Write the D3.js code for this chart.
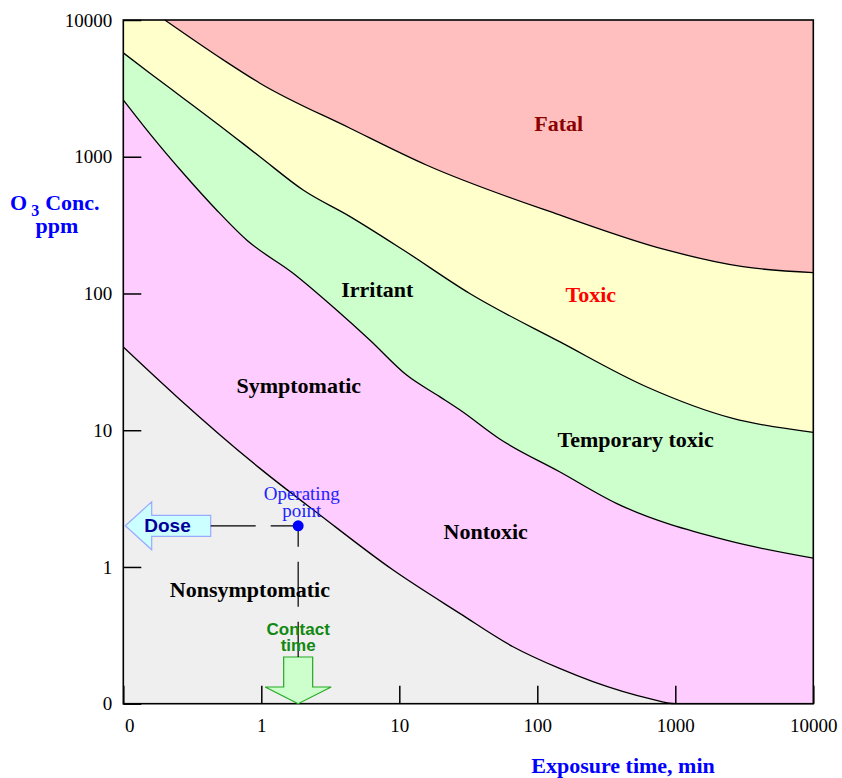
<!DOCTYPE html>
<html>
<head>
<meta charset="utf-8">
<script src="https://cdn.jsdelivr.net/npm/d3@7"></script>
<style>
  body { margin: 0; background: #fff; }
</style>
</head>
<body>
<div id="chart"></div>
<script>
// boundaries between zones, [exposure time (min), O3 conc (ppm)]
const fatalEdge = [[0.2, 10000], [0.53, 5110], [0.977, 3450], [4.4, 1616], [15.7, 870], [145, 375], [861, 208], [3090, 157], [10000, 142]];
const toxicEdge = [[0.1, 5750], [0.156, 4080], [0.272, 2680], [0.474, 1760], [0.977, 1000], [2.01, 571], [4.4, 365], [10.7, 208], [32.4, 100], [145, 44.4], [617, 20.8], [2610, 12.2], [10000, 9.65]];
const tempToxicEdge = [[0.1, 2600], [0.156, 1470], [0.272, 757], [0.474, 408], [0.783, 246], [1.7, 140.6], [3.51, 75.7], [6.11, 45.7], [11.3, 25.3], [19.6, 17.6], [27.4, 14.1], [53.4, 8.62], [145, 4.97], [374, 2.92], [2340, 1.57], [10000, 1.16]];
const symptomEdge = [[0.1, 40.6], [0.244, 17.6], [0.977, 5.26], [2.66, 2.4], [9.02, 0.949], [27.4, 0.458], [66.7, 0.261], [145, 0.181], [253, 0.145], [651, 0.109], [1000, 0.1], [10000, 0.1]];

const opPoint = [1.85, 2];

const xTicks = [0.1, 1, 10, 100, 1000, 10000];
const xTickLabels = ['0', '1', '10', '100', '1000', '10000'];
const yTicks = [0.1, 1, 10, 100, 1000, 10000];
const yTickLabels = ['0', '1', '10', '100', '1000', '10000'];

// zone names with a point (time, ppm) where the name sits
const zoneNames = ['Fatal', 'Toxic', 'Irritant', 'Symptomatic', 'Temporary toxic', 'Nontoxic', 'Nonsymptomatic'];
const zoneSpots = [[143, 1545], [244, 86.7], [6.93, 94.3], [1.87, 18.7], [516, 7.53], [42.3, 1.6], [0.827, 0.602]];

const W = 842, H = 778;
const pLeft = 123.3, pRight = 813.3, pTop = 20, pBottom = 703.7;
const serif = '"Liberation Serif", "Times New Roman", serif';
const sans = '"Liberation Sans", Arial, sans-serif';

let svg = d3.select('#chart').append('svg')
  .attr('width', W)
  .attr('height', H)
  .attr('font-family', serif);

let x = d3.scaleLog().domain([0.1, 10000]).range([pLeft, pRight]);
let y = d3.scaleLog().domain([0.1, 10000]).range([pBottom, pTop]);

// grey background = nonsymptomatic
svg.append('rect')
  .attr('x', pLeft).attr('y', pTop)
  .attr('width', pRight - pLeft).attr('height', pBottom - pTop)
  .attr('fill', '#efefef');

const area = d3.area()
  .x(d => x(d[0]))
  .y0(d => y(d[1]))
  .y1(pTop)
  .curve(d3.curveMonotoneX);

const line = d3.line()
  .x(d => x(d[0]))
  .y(d => y(d[1]))
  .curve(d3.curveMonotoneX);

const zones = [
  { edge: symptomEdge, fill: '#ffccff' },
  { edge: tempToxicEdge, fill: '#ccffcc' },
  { edge: toxicEdge, fill: '#ffffcc' },
  { edge: fatalEdge, fill: '#ffbfbf' }
];

svg.selectAll('path.zone')
  .data(zones)
  .join('path')
  .attr('class', 'zone')
  .attr('d', d => area(d.edge))
  .attr('fill', d => d.fill);

svg.selectAll('path.edge')
  .data(zones)
  .join('path')
  .attr('class', 'edge')
  .attr('d', d => line(d.edge))
  .attr('fill', 'none')
  .attr('stroke', '#000')
  .attr('stroke-width', 1.3);

// axes, ticks pointing inward
let yAxis = d3.axisLeft(y)
  .tickValues(yTicks)
  .tickFormat((d, i) => yTickLabels[i])
  .tickSizeInner(-18)
  .tickSizeOuter(0)
  .tickPadding(11);

let xAxis = d3.axisBottom(x)
  .tickValues(xTicks)
  .tickFormat((d, i) => xTickLabels[i])
  .tickSizeInner(-18)
  .tickSizeOuter(0)
  .tickPadding(15);

let gy = svg.append('g')
  .attr('transform', `translate(${pLeft},0)`)
  .call(yAxis);

let gx = svg.append('g')
  .attr('transform', `translate(0,${pBottom})`)
  .call(xAxis);

[gx, gy].forEach(g => {
  g.attr('font-family', serif);
  g.selectAll('text')
    .attr('font-size', 19)
    .attr('fill', '#000');
  g.selectAll('line').attr('stroke', '#000').attr('stroke-width', 1.5);
  g.select('.domain').remove();
});
gx.selectAll('text').filter((d, i) => i === 0).attr('dx', 6);

svg.append('rect')
  .attr('x', pLeft).attr('y', pTop)
  .attr('width', pRight - pLeft).attr('height', pBottom - pTop)
  .attr('fill', 'none')
  .attr('stroke', '#000')
  .attr('stroke-width', 1.6);

// zone names
const zoneColors = ['#8b0000', '#ff0000', '#000', '#000', '#000', '#000', '#000'];
svg.selectAll('text.zone')
  .data(zoneNames)
  .join('text')
  .attr('class', 'zone')
  .attr('x', (d, i) => x(zoneSpots[i][0]))
  .attr('y', (d, i) => y(zoneSpots[i][1]))
  .attr('text-anchor', 'middle')
  .attr('font-size', 22)
  .attr('font-weight', 'bold')
  .attr('fill', (d, i) => zoneColors[i])
  .text(d => d);

// operating point with its dose / contact time arrows
const px = x(opPoint[0]), py = y(opPoint[1]);
const doseEnd = pLeft + 87.4;
const arrowTop = pBottom - 46.7;

svg.append('path')
  .attr('d', d3.line()([
    [pLeft + 2, py], [pLeft + 28.4, py - 24], [pLeft + 28.4, py - 10.5], [doseEnd, py - 10.5],
    [doseEnd, py + 10.5], [pLeft + 28.4, py + 10.5], [pLeft + 28.4, py + 24]
  ]) + 'Z')
  .attr('fill', '#ccffff')
  .attr('stroke', '#99aaff')
  .attr('stroke-width', 1.2);

svg.append('text')
  .attr('x', pLeft + 44.2)
  .attr('y', py + 6.5)
  .attr('text-anchor', 'middle')
  .attr('font-family', sans)
  .attr('font-weight', 'bold')
  .attr('font-size', 19)
  .attr('fill', '#000099')
  .text('Dose');

svg.append('path')
  .attr('d', d3.line()([
    [px, pBottom], [px - 33, pBottom - 16.7], [px - 14.5, pBottom - 16.7], [px - 14.5, arrowTop],
    [px + 14.5, arrowTop], [px + 14.5, pBottom - 16.7], [px + 33, pBottom - 16.7]
  ]) + 'Z')
  .attr('fill', '#ccffcc')
  .attr('stroke', '#22aa22')
  .attr('stroke-width', 1.2);

svg.append('line')
  .attr('x1', doseEnd).attr('y1', py)
  .attr('x2', px).attr('y2', py)
  .attr('stroke', '#000')
  .attr('stroke-width', 1.2)
  .attr('stroke-dasharray', '45,15');

svg.append('line')
  .attr('x1', px).attr('y1', py)
  .attr('x2', px).attr('y2', arrowTop)
  .attr('stroke', '#000')
  .attr('stroke-width', 1.2)
  .attr('stroke-dasharray', '45,15')
  .attr('stroke-dashoffset', 24);

let ct = svg.append('text')
  .attr('text-anchor', 'middle')
  .attr('font-family', sans)
  .attr('font-weight', 'bold')
  .attr('font-size', 17)
  .attr('fill', '#118811');
ct.append('tspan').attr('x', px).attr('y', pBottom - 69).text('Contact');
ct.append('tspan').attr('x', px).attr('y', pBottom - 53).text('time');

svg.append('circle')
  .attr('cx', px).attr('cy', py)
  .attr('r', 5.5)
  .attr('fill', '#0000ff');

let op = svg.append('text')
  .attr('text-anchor', 'middle')
  .attr('font-size', 19)
  .attr('fill', '#2222ff');
op.append('tspan').attr('x', px + 3.5).attr('y', py - 25.5).text('Operating');
op.append('tspan').attr('x', px + 3.5).attr('y', py - 9).text('point');

// axis titles
let yt = svg.append('text')
  .attr('x', 10)
  .attr('y', 210)
  .attr('font-size', 22)
  .attr('font-weight', 'bold')
  .attr('fill', '#0000ff');
yt.append('tspan').text('O');
yt.append('tspan').attr('font-size', 16).attr('dx', 4).attr('dy', 6).text('3');
yt.append('tspan').attr('dx', 6).attr('dy', -6).text('Conc.');

svg.append('text')
  .attr('x', 57)
  .attr('y', 233)
  .attr('text-anchor', 'middle')
  .attr('font-size', 22)
  .attr('font-weight', 'bold')
  .attr('fill', '#0000ff')
  .text('ppm');

svg.append('text')
  .attr('x', 623)
  .attr('y', 773)
  .attr('text-anchor', 'middle')
  .attr('font-size', 22)
  .attr('font-weight', 'bold')
  .attr('fill', '#0000ff')
  .text('Exposure time, min');
</script>
</body>
</html>
